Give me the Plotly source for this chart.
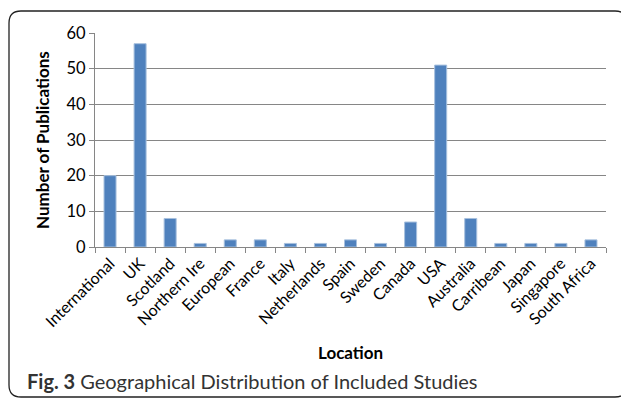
import plotly.graph_objects as go

locations = ["International", "UK", "Scotland", "Northern Ire", "European", "France", "Italy",
             "Netherlands", "Spain", "Sweden", "Canada", "USA", "Australia", "Carribean",
             "Japan", "Singapore", "South Africa"]
publications = [20, 57, 8, 1, 2, 2, 1, 1, 2, 1, 7, 51, 8, 1, 1, 1, 2]
y_ticks = [0, 10, 20, 30, 40, 50, 60]

# page has an 8px body margin, so the figure is drawn 8px smaller
W, H = 621, 392
L, R, T, B = 87, 23, 25, 153
pw, ph = W - L - R, H - T - B

def px(x):
    return (x - L) / pw

def py(y):
    return (H - B - y) / ph

fig = go.Figure(go.Bar(
    x=locations, y=publications,
    marker=dict(color="#4F81BD", line=dict(color="#A7C0DE", width=1)),
    width=0.4,
))

# rounded border
x0, x1, y0, y1, r = 1, 619, 3, 389, 12
path = (f"M {px(x0 + r)},{py(y0)} L {px(x1 - r)},{py(y0)} "
        f"Q {px(x1)},{py(y0)} {px(x1)},{py(y0 + r)} L {px(x1)},{py(y1 - r)} "
        f"Q {px(x1)},{py(y1)} {px(x1 - r)},{py(y1)} L {px(x0 + r)},{py(y1)} "
        f"Q {px(x0)},{py(y1)} {px(x0)},{py(y1 - r)} L {px(x0)},{py(y0 + r)} "
        f"Q {px(x0)},{py(y0)} {px(x0 + r)},{py(y0)} Z")

font = "Lato"
fig.update_layout(
    width=W, height=H,
    margin=dict(l=L, r=R, t=T, b=B),
    paper_bgcolor="white", plot_bgcolor="white",
    showlegend=False,
    font=dict(family=font, color="black", size=14),
    xaxis=dict(
        automargin=False,
        tickangle=-45, tickson="boundaries", ticks="outside", ticklen=5,
        tickcolor="#868686", showline=True, linecolor="#868686", linewidth=1,
        showgrid=False, tickfont=dict(size=16),
    ),
    yaxis=dict(
        automargin=False,
        range=[0, 60], tickvals=y_ticks, ticks="outside", ticklen=5,
        tickcolor="#868686", showline=True, linecolor="#868686", linewidth=1,
        gridcolor="#868686", gridwidth=1, tickfont=dict(size=16.5),
        zeroline=False,
    ),
    shapes=[dict(type="path", path=path, xref="paper", yref="paper",
                 line=dict(color="#222222", width=1.3), layer="below")],
    annotations=[
        dict(text="<b>Location</b>", xref="paper", yref="paper", x=0.5, y=py(344),
             xanchor="center", yanchor="middle", showarrow=False,
             font=dict(size=17, color="black", family=font)),
        dict(text="<b>Number of Publications</b>", xref="paper", yref="paper",
             x=px(34), y=0.5, textangle=-90, xanchor="center", yanchor="middle",
             showarrow=False, font=dict(size=17, color="black", family=font)),
        dict(text="<b>Fig. 3</b> Geographical Distribution of Included Studies",
             xref="paper", yref="paper", x=px(17), y=py(373),
             xanchor="left", yanchor="middle", showarrow=False,
             font=dict(size=20, color="#333333", family=font)),
    ],
)
fig.write_html("out.html")
